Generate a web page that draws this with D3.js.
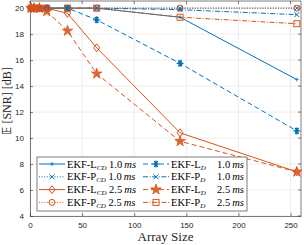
<!DOCTYPE html>
<html>
<head>
<meta charset="utf-8">
<script src="https://cdn.jsdelivr.net/npm/d3@7"></script>
<style>
  body { margin: 0; background: #fff; }
  svg { display: block; }
</style>
</head>
<body>
<svg id="chart"></svg>
<script>
const width = 304, height = 245;

// data
const arraySizes = [1, 4, 9, 16, 36, 64, 144, 256];
const lcd10 = [20, 20, 20, 20, 20, 20, 19.3, 14.5];
const pcd10 = [20, 20, 20, 20, 20, 20, 20, 20];
const lcd25 = [20, 20, 20, 20, 19.6, 16.95, 10.4, 7.4];
const pcd25 = [20, 20, 20, 20, 20, 20, 20, 20];
const ld10 = [20, 20, 20, 20, 20, 19.1, 15.75, 10.55];
const pd10 = [20, 20, 20, 20, 20, 20, 19.88, 19.5];
const ld25 = [20, 20, 20, 19.75, 18.25, 14.95, 9.75, 7.4];
const pd25 = [20, 20, 20, 20, 20, 20, 19.3, 18.8];
const xTicks = [0, 50, 100, 150, 200, 250];
const yTicks = [4, 6, 8, 10, 12, 14, 16, 18, 20];

const blue = "#0072BD", orange = "#D95319";

// series: name, subscript, time, values, colour, dash, marker
const series = [
  {name: "EKF-L", sub: "CD", t: "1.0", v: lcd10, c: blue, dash: null, m: "plus", col: 0, row: 0},
  {name: "EKF-P", sub: "CD", t: "1.0", v: pcd10, c: blue, dash: "1,1.6", m: "x", col: 0, row: 1},
  {name: "EKF-L", sub: "CD", t: "2.5", v: lcd25, c: orange, dash: null, m: "diamond", col: 0, row: 2},
  {name: "EKF-P", sub: "CD", t: "2.5", v: pcd25, c: orange, dash: "1,1.6", m: "circle", col: 0, row: 3},
  {name: "EKF-L", sub: "D", t: "1.0", v: ld10, c: blue, dash: "5,3", m: "asterisk", col: 1, row: 0},
  {name: "EKF-P", sub: "D", t: "1.0", v: pd10, c: blue, dash: "5,1.6,1,1.6", m: "x", col: 1, row: 1},
  {name: "EKF-L", sub: "D", t: "2.5", v: ld25, c: orange, dash: "5,3", m: "star", col: 1, row: 2},
  {name: "EKF-P", sub: "D", t: "2.5", v: pd25, c: orange, dash: "5,1.6,1,1.6", m: "square", col: 1, row: 3}
];

const margin = {left: 30, right: 3, top: 1, bottom: 29};

const svg = d3.select("#chart").attr("width", width).attr("height", height);

const x = d3.scaleLinear().domain([0, 260]).range([margin.left, width - margin.right]);
const y = d3.scaleLinear().domain([4, 20.55]).range([height - margin.bottom, margin.top]);

// grid
svg.append("g").selectAll("line").data(xTicks).join("line")
  .attr("x1", d => x(d)).attr("x2", d => x(d))
  .attr("y1", y.range()[0]).attr("y2", y.range()[1])
  .attr("stroke", "#e3e3e3").attr("stroke-width", 0.6);
svg.append("g").selectAll("line").data(yTicks).join("line")
  .attr("x1", x.range()[0]).attr("x2", x.range()[1])
  .attr("y1", d => y(d)).attr("y2", d => y(d))
  .attr("stroke", "#e3e3e3").attr("stroke-width", 0.6);

// axes
const xAxis = svg.append("g").attr("transform", "translate(0," + y.range()[0] + ")")
  .call(d3.axisBottom(x).tickValues(xTicks).tickSizeInner(-3).tickSizeOuter(0).tickPadding(6));
const yAxis = svg.append("g").attr("transform", "translate(" + x.range()[0] + ",0)")
  .call(d3.axisLeft(y).tickValues(yTicks).tickSizeInner(-3).tickSizeOuter(0).tickPadding(6));
[xAxis, yAxis].forEach(a => {
  a.select(".domain").attr("stroke", "#262626").attr("stroke-width", 0.6);
  a.selectAll(".tick line").attr("stroke", "#262626").attr("stroke-width", 0.6);
  a.selectAll("text").attr("fill", "#262626").style("font-family", "Liberation Sans, Arial, sans-serif").style("font-size", "8px");
});
// top and right box with ticks
svg.append("line").attr("x1", x.range()[0]).attr("x2", x.range()[1]).attr("y1", y.range()[1]).attr("y2", y.range()[1])
  .attr("stroke", "#262626").attr("stroke-width", 0.6);
svg.append("line").attr("x1", x.range()[1]).attr("x2", x.range()[1]).attr("y1", y.range()[0]).attr("y2", y.range()[1])
  .attr("stroke", "#262626").attr("stroke-width", 0.6);
svg.append("g").selectAll("line").data(xTicks).join("line")
  .attr("x1", d => x(d)).attr("x2", d => x(d)).attr("y1", y.range()[1]).attr("y2", y.range()[1] + 3)
  .attr("stroke", "#262626").attr("stroke-width", 0.6);
svg.append("g").selectAll("line").data(yTicks).join("line")
  .attr("x1", x.range()[1] - 3).attr("x2", x.range()[1]).attr("y1", d => y(d)).attr("y2", d => y(d))
  .attr("stroke", "#262626").attr("stroke-width", 0.6);

// marker drawing
function marker(sel, type, color) {
  if (type === "circle") {
    sel.append("circle").attr("r", 3).attr("fill", "none").attr("stroke", color).attr("stroke-width", 1);
  } else if (type === "square") {
    sel.append("rect").attr("x", -3).attr("y", -3).attr("width", 6).attr("height", 6)
      .attr("fill", "none").attr("stroke", color).attr("stroke-width", 1);
  } else if (type === "diamond") {
    sel.append("path").attr("d", "M0,-4L3,0L0,4L-3,0Z").attr("fill", "none").attr("stroke", color).attr("stroke-width", 1);
  } else if (type === "plus") {
    sel.append("path").attr("d", "M-2,0H2M0,-2V2").attr("stroke", color).attr("stroke-width", 0.8);
  } else if (type === "x") {
    sel.append("path").attr("d", "M-2.5,-2.5L2.5,2.5M-2.5,2.5L2.5,-2.5").attr("stroke", color).attr("stroke-width", 1);
  } else if (type === "asterisk") {
    sel.append("path").attr("d", "M-3.5,0H3.5M-1.75,-3L1.75,3M-1.75,3L1.75,-3M0,-3.5V3.5").attr("stroke", color).attr("stroke-width", 1.2);
    sel.append("circle").attr("r", 1.8).attr("fill", color);
  } else if (type === "star") {
    sel.append("path").attr("d", d3.symbol(d3.symbolStar, 34)()).attr("fill", color).attr("fill-opacity", 0.85)
      .attr("stroke", color).attr("stroke-width", 0.8);
  }
}

const line = d3.line().x(d => x(d[0])).y(d => y(d[1]));

series.forEach(s => {
  const pts = arraySizes.map((a, i) => [a, s.v[i]]);
  svg.append("path").datum(pts).attr("d", line)
    .attr("fill", "none").attr("stroke", s.c).attr("stroke-width", 1)
    .attr("stroke-dasharray", s.dash);
});
series.forEach(s => {
  arraySizes.forEach((a, i) => {
    const g = svg.append("g").attr("transform", "translate(" + x(a) + "," + y(s.v[i]) + ")");
    marker(g, s.m, s.c);
  });
});

// axis labels
svg.append("text").attr("x", (x.range()[0] + x.range()[1]) / 2).attr("y", 241)
  .attr("text-anchor", "middle").style("font-family", "Liberation Serif, serif").style("font-size", "13px")
  .attr("fill", "#262626").text("Array Size");
const yl = svg.append("text").attr("transform", "translate(11,101) rotate(-90)")
  .attr("text-anchor", "middle").style("font-family", "Liberation Serif, serif").style("font-size", "12px")
  .attr("fill", "#262626");
yl.append("tspan").style("font-family", "DejaVu Sans, sans-serif").style("font-weight", "bold").text("𝔼");
yl.append("tspan").text(" [SNR] [dB]");

// legend
const leg = svg.append("g");
leg.append("rect").attr("x", 37).attr("y", 157).attr("width", 210).attr("height", 54)
  .attr("fill", "#fff").attr("stroke", "#262626").attr("stroke-width", 0.6);
const colX = [39, 143];
series.forEach(s => {
  const yy = 164 + s.row * 12.8;
  const x0 = colX[s.col];
  leg.append("line").attr("x1", x0).attr("x2", x0 + 26).attr("y1", yy).attr("y2", yy)
    .attr("stroke", s.c).attr("stroke-width", 1).attr("stroke-dasharray", s.dash);
  marker(leg.append("g").attr("transform", "translate(" + (x0 + 13) + "," + yy + ")"), s.m, s.c);
  const t = leg.append("text").attr("x", x0 + 28).attr("y", yy + 3.5)
    .style("font-family", "Liberation Serif, serif").style("font-size", "10.5px").attr("fill", "#000");
  t.append("tspan").text(s.name);
  t.append("tspan").attr("dy", 2).style("font-size", "7px").style("font-style", "italic").text(s.sub);
  if (s.col === 0) {
    t.append("tspan").attr("dy", -2).text(" " + s.t);
  } else {
    t.append("tspan").attr("dy", -2).attr("x", 217).text(s.t);
  }
  t.append("tspan").style("font-style", "italic").text("\u2009ms");
});
</script>
</body>
</html>
